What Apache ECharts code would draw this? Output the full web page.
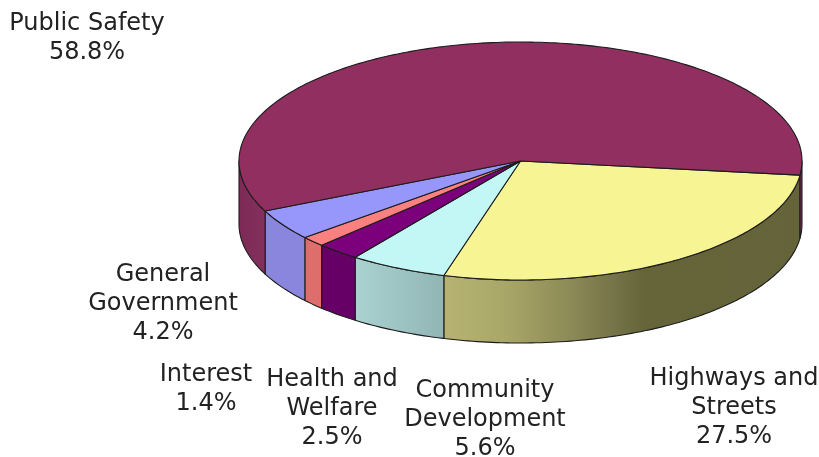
<!DOCTYPE html>
<html>
<head>
<meta charset="utf-8">
<script src="https://cdn.jsdelivr.net/npm/echarts@6/dist/echarts.min.js"></script>
<style>
  html, body { margin: 0; padding: 0; background: #fff; }
  #chart { width: 819px; height: 457px; }
</style>
</head>
<body>
<div id="chart"></div>
<script>
// Expenditure shares, in clockwise order from the right-hand edge of the pie.
const categories = ['Highways and Streets', 'Community Development', 'Health and Welfare', 'Interest', 'General Government', 'Public Safety'];
const shares = [27.5, 5.6, 2.5, 1.4, 4.2, 58.8];
const labelLines = [
  ['Highways and', 'Streets'],
  ['Community', 'Development'],
  ['Health and', 'Welfare'],
  ['Interest'],
  ['General', 'Government'],
  ['Public Safety']
];

// Tilted-disc geometry.
const disc = { cx: 520.5, cy: 161, rx: 281.5, ry: 119, depth: 63, startDeg: 6.8 };
const labelCentres = [[734, 364], [485, 376], [332, 365], [206, 360], [163, 260], [87, 9]];
const lineHeight = 29;

const topColours = ['#f7f593', '#c3f7f6', '#7c007c', '#fb8080', '#9797fb', '#902f60'];
// Wall shading, listed from the left end of each wall to its right end.
const wallStops = [
  [[0, '#b7b472'], [0.17, '#a9a768'], [0.34, '#8f8d58'], [0.5, '#716f45'], [0.56, '#666539'], [1, '#64633a']],
  [[0, '#a9d2d1'], [1, '#92b5b5']],
  [[0, '#660066'], [1, '#660066']],
  [[0, '#de6e6c'], [1, '#de6e6c']],
  [[0, '#8a86de'], [1, '#8a86de']],
  [[0, '#7d2a56'], [1, '#84305c']]
];

const total = shares.reduce((a, b) => a + b, 0);

function rim(deg, drop) {
  const t = deg * Math.PI / 180;
  return [disc.cx + disc.rx * Math.cos(t), disc.cy + disc.ry * Math.sin(t) + drop];
}

// Outer wall of one slice between two angles, limited to the side facing the viewer.
function wallPoints(a, b) {
  const pts = [];
  for (let d = a; d < b; d += 1) pts.push(rim(d, 0));
  pts.push(rim(b, 0));
  for (let d = b; d > a; d -= 1) pts.push(rim(d, disc.depth));
  pts.push(rim(a, disc.depth));
  return pts;
}

function frontRanges(a, b) {
  const out = [];
  [[0, 180], [360, 540]].forEach(([lo, hi]) => {
    const s = Math.max(a, lo), e = Math.min(b, hi);
    if (e > s) out.push([s, e]);
  });
  return out;
}

const edge = { stroke: '#1c1c1c', lineWidth: 1.1, lineJoin: 'round' };

function renderSlice(params, api) {
  const i = params.dataIndex;
  const value = api.value(0);
  let before = 0;
  for (let k = 0; k < i; k++) before += shares[k];
  const a = disc.startDeg + before / total * 360;
  const b = a + value / total * 360;

  const children = [];
  frontRanges(a, b).forEach(([s, e]) => {
    const pts = wallPoints(s, e);
    const x0 = rim(e, 0)[0], x1 = rim(s, 0)[0];
    const fill = new echarts.graphic.LinearGradient(x0, 0, x1, 0,
      wallStops[i].map(([offset, color]) => ({ offset, color })), true);
    children.push({ type: 'polygon', shape: { points: pts }, style: Object.assign({ fill }, edge) });
  });

  const top = [[disc.cx, disc.cy]];
  for (let d = a; d < b; d += 1) top.push(rim(d, 0));
  top.push(rim(b, 0));
  children.push({ type: 'polygon', shape: { points: top }, style: Object.assign({ fill: topColours[i] }, edge) });

  const [lx, ly] = labelCentres[i];
  children.push({
    type: 'text',
    style: {
      x: lx, y: ly,
      text: labelLines[i].concat([value.toFixed(1) + '%']).join('\n'),
      fill: '#222222',
      font: '24px "DejaVu Sans", Verdana, sans-serif',
      align: 'center',
      verticalAlign: 'top',
      lineHeight: lineHeight
    }
  });
  return { type: 'group', children };
}

const chart = echarts.init(document.getElementById('chart'), null, { renderer: 'canvas' });
chart.setOption({
  animation: false,
  backgroundColor: '#ffffff',
  series: [{
    type: 'custom',
    coordinateSystem: 'none',
    renderItem: renderSlice,
    data: categories.map((name, i) => ({ name, value: [shares[i]] }))
  }]
});
</script>
</body>
</html>
